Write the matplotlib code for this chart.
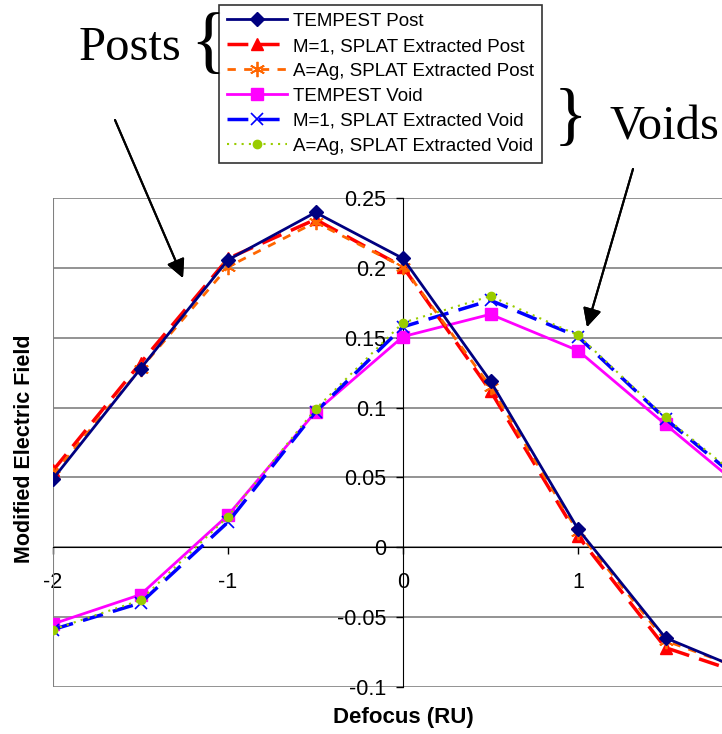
import numpy as np
from matplotlib import pyplot as plt

defocus = [-2, -1.5, -1, -0.5, 0, 0.5, 1, 1.5, 2]

tempest_post = [0.049, 0.128, 0.206, 0.240, 0.207, 0.119, 0.013, -0.065, -0.091]
m1_post = [0.055, 0.132, 0.207, 0.235, 0.201, 0.112, 0.008, -0.072, -0.093]
aag_post = [0.052, 0.128, 0.201, 0.233, 0.201, 0.115, 0.011, -0.067, -0.090]
tempest_void = [-0.055, -0.034, 0.023, 0.097, 0.151, 0.167, 0.141, 0.088, 0.036]
m1_void = [-0.059, -0.040, 0.018, 0.097, 0.158, 0.177, 0.151, 0.092, 0.040]
aag_void = [-0.059, -0.038, 0.022, 0.099, 0.161, 0.180, 0.152, 0.093, 0.042]

labels = ['TEMPEST Post', 'M=1, SPLAT Extracted Post', 'A=Ag, SPLAT Extracted Post',
          'TEMPEST Void', 'M=1, SPLAT Extracted Void', 'A=Ag, SPLAT Extracted Void']

plt.rcParams['font.family'] = ['Liberation Sans', 'DejaVu Sans']

fig = plt.figure(figsize=(7.22, 7.34), dpi=100)
# plot area runs a bit past the right edge of the picture, as in the source
ax = fig.add_axes([53 / 722, 1 - 686.7 / 734, 700 / 722, (686.7 - 198.5) / 734])

ax.plot(defocus, tempest_post, color='#000080', lw=2, marker='D', ms=7,
        label=labels[0], zorder=6)
ax.plot(defocus, m1_post, color='#FF0000', lw=2.5, ls=(0, (6, 3)), marker='^', ms=9,
        label=labels[1], zorder=5)
ax.plot(defocus, aag_post, color='#FF6600', lw=2, ls=(0, (3, 3)), marker=(6, 2, 0), ms=11,
        mew=1.3, label=labels[2], zorder=5)
ax.plot(defocus, tempest_void, color='#FF00FF', lw=2, marker='s', ms=8,
        label=labels[3], zorder=4)
ax.plot(defocus, m1_void, color='#0000FF', lw=2.5, ls=(0, (6, 3)), marker='x', ms=9,
        mew=1.2, label=labels[4], zorder=4)
ax.plot(defocus, aag_void, color='#99CC00', lw=1.5, ls=(0, (1, 2.5)), marker='o', ms=6,
        label=labels[5], zorder=5)

ax.set_xlim(-2, 2)
ax.set_ylim(-0.1, 0.25)
ax.set_yticks(np.arange(-0.1, 0.26, 0.05))
ax.set_yticklabels(['-0.1', '-0.05', '0', '0.05', '0.1', '0.15', '0.2', '0.25'])
# the "2" label falls outside the picture, so only -2..1 get labels
ax.set_xticks([-2, -1, 0, 1])
ax.set_xticklabels(['-2', '-1', '0', '1'])
ax.yaxis.grid(True, color='#808080', lw=1.2)
ax.set_axisbelow(True)

for side in ['top', 'right']:
    ax.spines[side].set_visible(False)
ax.spines['left'].set_position(('data', 0))
ax.spines['bottom'].set_position(('data', 0))
ax.spines['left'].set_color('black')
ax.spines['bottom'].set_color('black')
ax.axvline(-2, color='#808080', lw=1.5, zorder=1)
ax.tick_params(axis='y', direction='out', length=5, width=1, pad=7, labelsize=15.5)
ax.tick_params(axis='x', direction='out', length=5, width=1, pad=13, labelsize=15.5)

fig.text(403 / 722, 1 - 718 / 734, 'Defocus (RU)', ha='center', va='center',
         fontsize=16, fontweight='bold')
fig.text(25 / 722, 1 - 449 / 734, 'Modified Electric Field', ha='center', va='center',
         rotation=90, fontsize=15.5, fontweight='bold')

leg = fig.legend(loc='upper left', bbox_to_anchor=(219 / 722, 1 - 5 / 734),
                 fontsize=13.5, frameon=True, fancybox=False, handlelength=3.2,
                 labelspacing=0.42, borderpad=0.42, handletextpad=0.35, borderaxespad=0)
leg.get_frame().set_edgecolor('black')
leg.get_frame().set_linewidth(1.2)

serif = ['Liberation Serif', 'DejaVu Serif']
fig.text(79 / 722, 1 - 60 / 734, 'Posts', family=serif, fontsize=35, ha='left', va='baseline')
fig.text(208 / 722, 1 - 46 / 734, '{', family=serif, fontsize=54, ha='center', va='center')
fig.text(570 / 722, 1 - 120 / 734, '}', family=serif, fontsize=50, ha='center', va='center')
fig.text(609 / 722, 1 - 140 / 734, 'Voids', family=serif, fontsize=35, ha='left', va='baseline')

arrow = dict(arrowstyle='-|>', color='black', lw=1.5, mutation_scale=28, shrinkA=0, shrinkB=0)
fig.add_artist(plt.annotate('', xy=(183 / 722, 1 - 278 / 734), xytext=(115 / 722, 1 - 120 / 734),
                            xycoords='figure fraction', arrowprops=arrow))
fig.add_artist(plt.annotate('', xy=(587 / 722, 1 - 327 / 734), xytext=(633 / 722, 1 - 169 / 734),
                            xycoords='figure fraction', arrowprops=arrow))

plt.savefig('out.png', dpi=100)
